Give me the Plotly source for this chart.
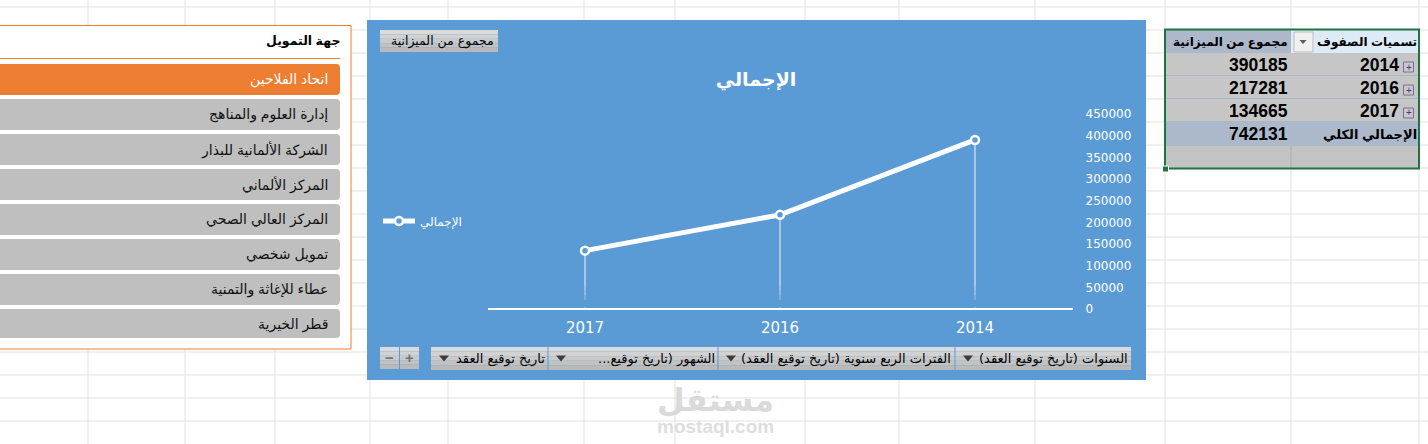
import plotly.graph_objects as go

W, H = 1428, 444

# data
years = ["2017", "2016", "2014"]
budget = [134665, 217281, 390185]
y_ticks = [0, 50000, 100000, 150000, 200000, 250000, 300000, 350000, 400000, 450000]
series_name = "الإجمالي"
chart_title = "الإجمالي"

slicer_title = "جهة التمويل"
slicer_items = [
    "اتحاد الفلاحين",
    "إدارة العلوم والمناهج",
    "الشركة الألمانية للبذار",
    "المركز الألماني",
    "المركز العالي الصحي",
    "تمويل شخصي",
    "عطاء للإغاثة والتمنية",
    "قطر الخيرية",
]

table_headers = ["تسميات الصفوف", "مجموع من الميزانية"]
table_years = ["2014", "2016", "2017"]
table_values = ["390185", "217281", "134665"]
total_label = "الإجمالي الكلي"
total_value = "742131"

value_button = "مجموع من الميزانية"
field_buttons = [
    "السنوات (تاريخ توقيع العقد)\u200f",
    "الفترات الربع سنوية (تاريخ توقيع العقد)\u200f",
    "الشهور (تاريخ توقيع...\u200f",
    "تاريخ توقيع العقد",
]

GRID_X = [88, 185, 275, 370, 448, 584, 675, 805, 899, 1035, 1165, 1291, 1419]
GRID_Y = [7 + 23 * i for i in range(19)]

BLUE = "#5B9BD5"
ORANGE = "#ED7D31"
GREY = "#BFBFBF"
AR_FONT = "Liberation Sans, DejaVu Sans, sans-serif"
UI_FONT = "DejaVu Sans, sans-serif"

shapes = []
notes = []


def px(x):
    return x / W


def py(y):
    return 1 - y / H


def rect(x0, y0, x1, y1, fill="rgba(0,0,0,0)", line=None, lw=1, layer="below"):
    shapes.append(dict(type="rect", xref="paper", yref="paper", layer=layer,
                       x0=px(x0), x1=px(x1), y0=py(y0), y1=py(y1), fillcolor=fill,
                       line=dict(color=line or "rgba(0,0,0,0)", width=lw if line else 0)))


def hline(x0, x1, y, color, lw=1):
    shapes.append(dict(type="line", xref="paper", yref="paper", layer="below",
                       x0=px(x0), x1=px(x1), y0=py(y), y1=py(y), line=dict(color=color, width=lw)))


def vline(x, y0, y1, color, lw=1):
    shapes.append(dict(type="line", xref="paper", yref="paper", layer="below",
                       x0=px(x), x1=px(x), y0=py(y0), y1=py(y1), line=dict(color=color, width=lw)))


def text(x, y, s, size=14, color="#000", anchor="right", bold=False, font=AR_FONT):
    if anchor == "right":
        x += 1.5  # annotations keep a small padding
    notes.append(dict(x=px(x), y=py(y), xref="paper", yref="paper", text=f"<b>{s}</b>" if bold else s,
                      showarrow=False, xanchor=anchor, yanchor="middle",
                      font=dict(family=font, size=size, color=color)))


def round_button(x0, y0, x1, y1, fill, r=4):
    # square on the left (runs off the page), rounded on the right
    path = (f"M {px(x0)} {py(y0)} L {px(x1 - r)} {py(y0)} Q {px(x1)} {py(y0)} {px(x1)} {py(y0 + r)} "
            f"L {px(x1)} {py(y1 - r)} Q {px(x1)} {py(y1)} {px(x1 - r)} {py(y1)} L {px(x0)} {py(y1)} Z")
    shapes.append(dict(type="path", xref="paper", yref="paper", layer="below", path=path,
                       fillcolor=fill, line=dict(width=0)))


def triangle(cx, cy, w, h, color):
    path = f"M {px(cx - w / 2)} {py(cy - h / 2)} L {px(cx + w / 2)} {py(cy - h / 2)} L {px(cx)} {py(cy + h / 2)} Z"
    shapes.append(dict(type="path", xref="paper", yref="paper", layer="below", path=path,
                       fillcolor=color, line=dict(width=0)))


def grey_button(x0, y0, x1, y1):
    # excel pivot buttons have a soft vertical gradient
    bands = ["#DADADA", "#D2D2D2", "#CACACA", "#C2C2C2", "#BABABA"]
    step = (y1 - y0) / len(bands)
    for i, c in enumerate(bands):
        rect(x0, y0 + i * step, x1, y0 + (i + 1) * step, fill=c)


# spreadsheet grid
for x in GRID_X:
    vline(x, 0, H, "#E1E1E1")
for y in GRID_Y:
    hline(0, W, y, "#E1E1E1")

# slicer
rect(-5, 25.5, 351, 349, fill="white", line=ORANGE)
text(340, 41, slicer_title, size=12.5, bold=True)
hline(0, 340, 58.5, ORANGE)
for i, item in enumerate(slicer_items):
    top = 64 + 35 * i
    bottom = top + 31 if i < 7 else 338
    round_button(-5, top, 340, bottom, ORANGE if i == 0 else GREY)
    text(328, top + 15.5, item, size=14, color="white" if i == 0 else "#111")

# chart panel
rect(367, 20, 1146, 380, fill=BLUE)
grey_button(380, 30, 498, 52)
text(494, 41, value_button, size=12.5, font=UI_FONT)

seg_edges = [1131, 955, 718, 548, 431]
for i, label in enumerate(field_buttons):
    right, left = seg_edges[i], seg_edges[i + 1]
    grey_button(left, 347, right, 370)
    if i > 0:
        vline(right, 347, 370, BLUE)
    text(right - 3, 358.5, label, size=13, font=UI_FONT)
    triangle(left + 13, 358.5, 10, 6, "#3F3A3F")

for x0, x1, sign in [(380, 399, "−"), (400, 419, "+")]:
    grey_button(x0, 347, x1, 369)
    text((x0 + x1) / 2, 357.5, sign, size=15, color="#6E7478", anchor="center", bold=True)

# pivot table
rect(1165, 30, 1291, 53, fill="#ADB9CA")
rect(1291, 30, 1419, 53, fill="#DDEBF7")
rect(1294, 32, 1313, 52, fill="#F0F0F0", line="#BDBDBD")
triangle(1303, 42, 7, 4, "#5A5A66")
text(1417, 42, table_headers[0], size=12, bold=True)
text(1288, 42, table_headers[1], size=12, bold=True)
for i, (yr, val) in enumerate(zip(table_years, table_values)):
    top = 53 + 23 * i
    rect(1165, top, 1419, top + 23, fill="#C6C6C6")
    hline(1165, 1419, top + 23, "#8EA9C8")
    rect(1403.5, top + 9, 1413.5, top + 19, fill="#C9C6D2", line="#7A6F8C")
    text(1408.5, top + 14, "+", size=10, color="#4A3F66", anchor="center")
    text(1399, top + 12, yr, size=17.5, bold=True, font="Liberation Sans")
    text(1288, top + 12, val, size=17.5, bold=True, font="Liberation Sans")
rect(1165, 122, 1419, 146, fill="#ACB9CA")
text(1417, 134, total_label, size=13, bold=True)
text(1288, 134, total_value, size=17.5, bold=True, font="Liberation Sans")
rect(1165, 146, 1419, 168, fill="#C3C3C3")
vline(1291, 146, 168, "#ABABAB")
rect(1165, 29.5, 1419, 168.5, line="#217346", lw=2)
rect(1162.5, 166, 1168.5, 172, fill="#217346", line="white")

# watermark
text(715, 400, "مستقل", size=32, color="#DADADA", anchor="center", bold=True)
text(715, 426, "mostaql.com", size=19, color="#DEDEDE", anchor="center", bold=True)

# the drop lines fade out just above the axis in the reference
for y0, y1, alpha in [(285, 290, 0.15), (290, 295, 0.35), (295, 300, 0.6), (300, 307.5, 1)]:
    rect(500, y0, 1060, y1, fill=f"rgba(91,155,213,{alpha})", layer="above")

fig = go.Figure()
fig.add_trace(go.Scatter(
    x=years, y=budget, name=series_name, mode="lines+markers",
    line=dict(color="white", width=5),
    marker=dict(size=8, color=BLUE, line=dict(color="white", width=2.5)),
    error_y=dict(type="data", symmetric=False, array=[0, 0, 0], arrayminus=budget,
                 color="rgba(255,255,255,0.9)", thickness=1, width=0),
))

fig.update_layout(
    width=W, height=H, margin=dict(l=0, r=0, t=0, b=0),
    paper_bgcolor="white", plot_bgcolor="rgba(0,0,0,0)",
    title=dict(text=f"<b>{chart_title}</b>", x=756 / W, xanchor="center", y=py(79), yanchor="middle",
               font=dict(family=AR_FONT, size=19, color="white")),
    showlegend=True,
    legend=dict(x=px(378), y=py(221), xanchor="left", yanchor="middle", bgcolor="rgba(0,0,0,0)",
                itemwidth=32, font=dict(family=AR_FONT, size=12, color="white")),
    xaxis=dict(domain=[px(487.5), px(1072.5)], type="category", range=[-0.5, 2.5], automargin=False,
               showgrid=False, zeroline=False, showline=False, ticks="", ticklabelstandoff=8,
               tickfont=dict(family=UI_FONT, size=15, color="white")),
    yaxis=dict(domain=[py(309), py(114)], range=[0, 450000], side="right", anchor="x", automargin=False,
               tickmode="array", tickvals=y_ticks, tickformat="d", showgrid=False, zeroline=True,
               zerolinecolor="white", zerolinewidth=2, showline=False, ticks="", ticklabelstandoff=12,
               tickfont=dict(family=UI_FONT, size=12, color="white")),
    shapes=shapes, annotations=notes,
)

fig.write_html("out.html", config={"displayModeBar": False},
               post_script="document.body.style.margin='0';document.body.style.overflow='hidden';")
